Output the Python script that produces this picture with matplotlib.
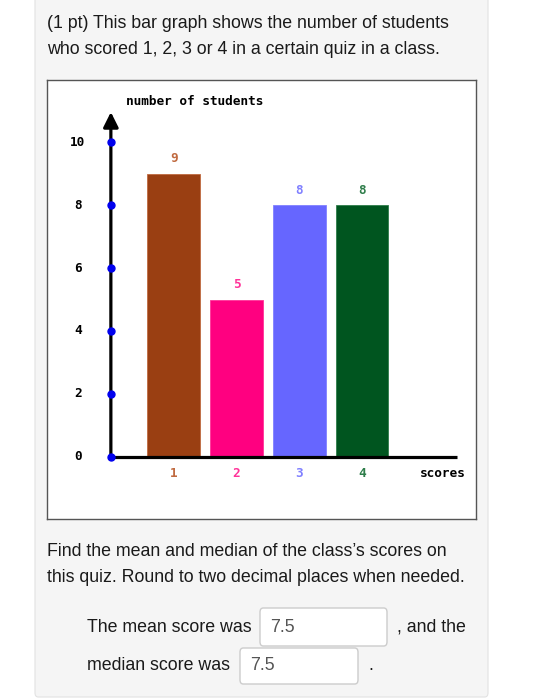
import matplotlib
matplotlib.use("Agg")
import matplotlib.pyplot as plt
from matplotlib.patches import FancyBboxPatch

# ---- data ----
scores = [1, 2, 3, 4]
students = [9, 5, 8, 8]
bar_colors = ["#9a3f12", "#ff0080", "#6666ff", "#00551f"]
label_colors = ["#c06a40", "#ff3399", "#8080ff", "#2e7d4a"]
yticks = [0, 2, 4, 6, 8, 10]
header_lines = ["(1 pt) This bar graph shows the number of students",
                "who scored 1, 2, 3 or 4 in a certain quiz in a class."]
question_lines = ["Find the mean and median of the class\u2019s scores on",
                  "this quiz. Round to two decimal places when needed."]
mean_answer = "7.5"
median_answer = "7.5"

W, H = 537, 700
fig = plt.figure(figsize=(W / 100, H / 100), dpi=100)
fig.patch.set_facecolor("white")

def fx(px):
    return px / W

def fy(py):
    return 1 - py / H

FS = 12.8
SANS = ["Liberation Sans", "DejaVu Sans"]

# background panel
panel = FancyBboxPatch((fx(35), fy(697)), fx(488) - fx(35), fy(-10) - fy(697),
                       boxstyle="round,pad=0,rounding_size=0.006",
                       transform=fig.transFigure, facecolor="#f5f5f5",
                       edgecolor="#e2e2e2", linewidth=0.8, zorder=-5)
fig.patches.append(panel)

tfont = dict(family=SANS, fontsize=FS, color="#1a1a1a")
fig.text(fx(47), fy(24), header_lines[0], va="center", ha="left", **tfont)
fig.text(fx(47), fy(50), header_lines[1], va="center", ha="left", **tfont)
fig.text(fx(47), fy(552), question_lines[0], va="center", ha="left", **tfont)
fig.text(fx(47), fy(578), question_lines[1], va="center", ha="left", **tfont)

# answer line 1
fig.text(fx(87), fy(627), "The mean score was", va="center", ha="left", **tfont)
box1 = FancyBboxPatch((fx(260), fy(646)), fx(387) - fx(260), fy(608) - fy(646),
                      boxstyle="round,pad=0,rounding_size=0.006",
                      transform=fig.transFigure, facecolor="white",
                      edgecolor="#cccccc", linewidth=1.0, zorder=-1)
fig.patches.append(box1)
fig.text(fx(270), fy(627), mean_answer, va="center", ha="left",
         family=SANS, fontsize=FS, color="#555555")
fig.text(fx(397), fy(627), ", and the", va="center", ha="left", **tfont)

# answer line 2
fig.text(fx(87), fy(666), "median score was", va="center", ha="left", **tfont)
box2 = FancyBboxPatch((fx(240), fy(684)), fx(358) - fx(240), fy(648) - fy(684),
                      boxstyle="round,pad=0,rounding_size=0.006",
                      transform=fig.transFigure, facecolor="white",
                      edgecolor="#cccccc", linewidth=1.0, zorder=-1)
fig.patches.append(box2)
fig.text(fx(250), fy(666), median_answer, va="center", ha="left",
         family=SANS, fontsize=FS, color="#555555")
fig.text(fx(368), fy(666), ".", va="center", ha="left", **tfont)

# ---- chart ----
ax = fig.add_axes([fx(47), fy(519), fx(476) - fx(47), fy(80) - fy(519)], zorder=2)
ax.set_facecolor("white")
ax.set_xlim(-1.017, 5.814)
ax.set_ylim(-1.98, 11.98)
ax.set_xticks([])
ax.set_yticks([])
for s in ax.spines.values():
    s.set_color("#555555")
    s.set_linewidth(1.0)

mono = dict(family=["DejaVu Sans Mono"], fontweight="bold", fontsize=9.2)

ax.bar(scores, students, width=0.84, color=bar_colors,
       edgecolor=label_colors, linewidth=0.6, zorder=2)
for x, v, c in zip(scores, students, label_colors):
    ax.text(x, v + 0.47, str(v), ha="center", va="center", color=c, **mono)
    ax.text(x, -0.52, str(x), ha="center", va="center", color=c, **mono)

# axes lines
ax.plot([0, 5.51], [0, 0], color="black", lw=2.3, zorder=3, solid_capstyle="butt")
ax.annotate("", xy=(0, 10.96), xytext=(0, 0),
            arrowprops=dict(arrowstyle="-|>,head_length=0.9,head_width=0.45",
                            color="black", lw=2.3, shrinkA=0, shrinkB=0),
            zorder=3)
ax.plot([0] * len(yticks), yticks, "o", color="#0000ee", ms=5, zorder=4)
for t in yticks:
    ax.text(-0.524, t, str(t), ha="center", va="center", color="black", **mono)

ax.text(1.34, 11.3, "number of students", ha="center", va="center", color="black", **mono)
ax.text(5.29, -0.52, "scores", ha="center", va="center", color="black", **mono)

fig.savefig("out.png", dpi=100, facecolor="white")
